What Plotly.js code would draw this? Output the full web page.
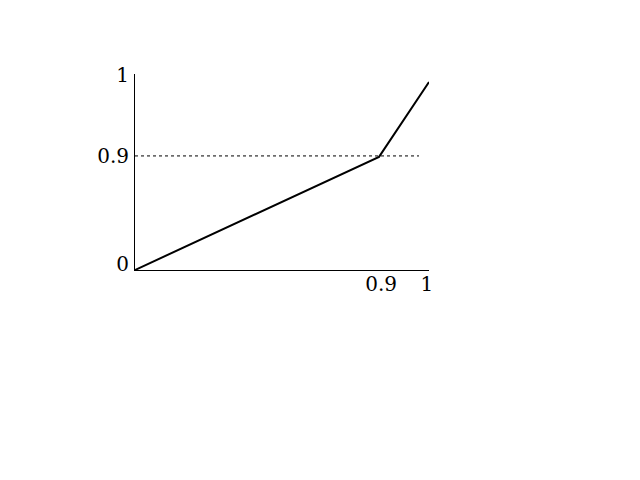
<!DOCTYPE html>
<html>
<head>
<meta charset="utf-8">
<script src="https://cdn.plot.ly/plotly-3.0.1.min.js"></script>
<style>html,body{margin:0;padding:0;background:#fff;}#chart{width:640px;height:480px;}</style>
</head>
<body>
<div id="chart"></div>
<script>
// Schematic curve, positions along the (non-linear) drawn axes
var curveX = [0, 0.83, 1.0];
var curveY = [0, 0.577, 0.959];
// Dotted reference level at "0.9"
var refX = [0, 0.966];
var refY = [0.582, 0.582];
// Tick labels
var xTickVals = [0.837, 0.993];
var xTickText = ["0.9", "1"];
var yTickVals = [0.03, 0.582, 0.995];
var yTickText = ["0", "0.9", "1"];

var traces = [
  {x: refX, y: refY, mode: 'lines', line: {color: '#000', width: 1, dash: 'dot'}, hoverinfo: 'skip'},
  {x: curveX, y: curveY, mode: 'lines', line: {color: '#000', width: 2}, hoverinfo: 'skip'}
];

var font = {family: 'DejaVu Serif', size: 20, color: '#000'};
var layout = {
  width: 640, height: 480,
  paper_bgcolor: '#fff', plot_bgcolor: '#fff',
  showlegend: false,
  margin: {l: 135, r: 211, t: 74, b: 210, pad: 0},
  font: font,
  xaxis: {range: [0, 1], showgrid: false, zeroline: false, showline: true, linecolor: '#000', linewidth: 1,
          tickmode: 'array', tickvals: xTickVals, ticktext: xTickText, ticks: '', tickfont: font,
          ticklabelstandoff: -4, fixedrange: true},
  yaxis: {range: [0, 1], showgrid: false, zeroline: false, showline: true, linecolor: '#000', linewidth: 1,
          tickmode: 'array', tickvals: yTickVals, ticktext: yTickText, ticks: '', tickfont: font,
          ticklabelstandoff: 1, fixedrange: true}
};
Plotly.newPlot('chart', traces, layout, {staticPlot: true, displayModeBar: false});
</script>
</body>
</html>
